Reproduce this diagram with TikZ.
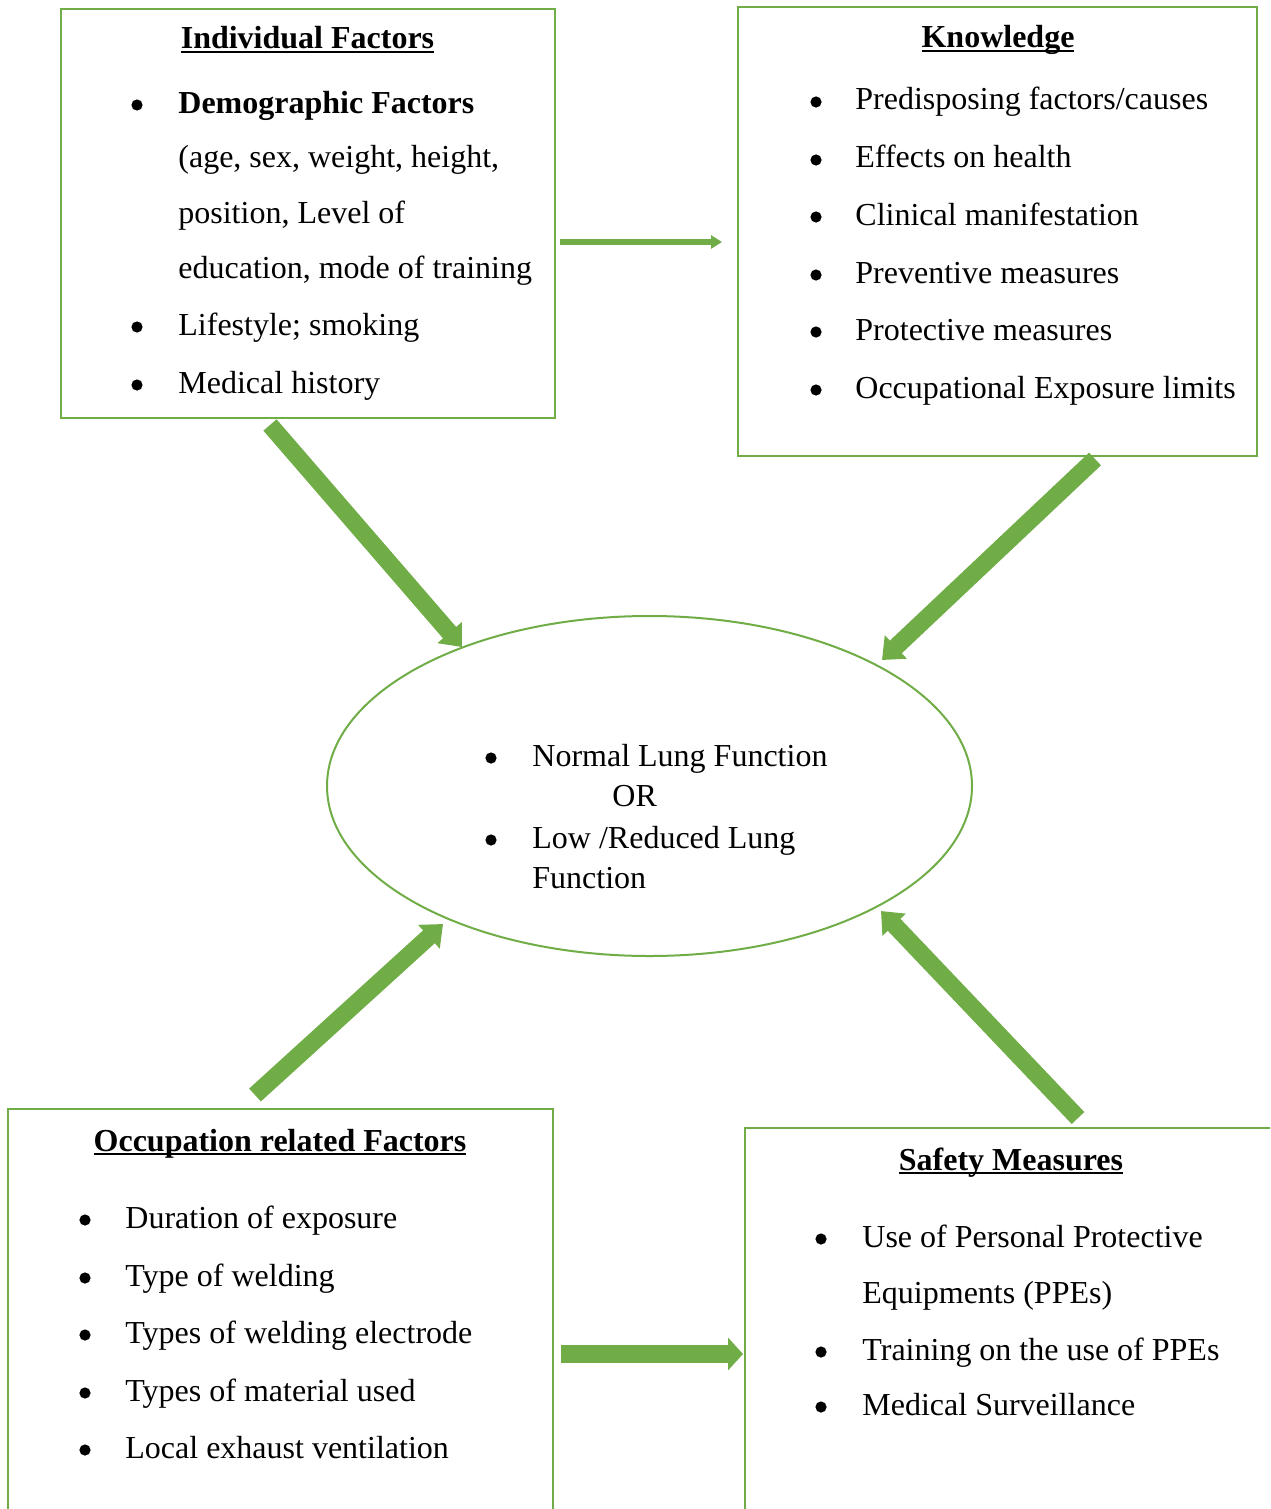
\documentclass[tikz,border=0pt]{standalone}
\usepackage{fontspec}
\setmainfont{Liberation Serif}
\usetikzlibrary{arrows.meta,shapes.geometric,fit}
\definecolor{grn}{HTML}{70AD47}
\newlength\myulw
\newcommand\myul[1]{\settowidth\myulw{#1}\rlap{\rule[-1.9pt]{\myulw}{0.8pt}}#1}
\begin{document}
\begin{tikzpicture}[x=0.5pt,y=-0.5pt,
  box/.style={draw=grn,line width=1.1pt,inner sep=0pt,rectangle},
  txt/.style={anchor=base west,inner sep=0pt,font=\fontsize{16}{19}\selectfont},
  ttl/.style={anchor=base,inner sep=0pt,font=\fontsize{16}{19}\selectfont\bfseries},
  bul/.style={circle,fill=black,inner sep=0pt,minimum size=5.6pt},
  thinarrow/.style={draw=grn,line width=3pt,-{Triangle[length=5.5pt,width=6.5pt]}},
  bigarrow/.style={draw=grn,line width=8.7pt,-{Triangle[length=9.5pt,width=15.5pt]}},
  flatarrow/.style={draw=grn,line width=9pt,-{Triangle[length=7.5pt,width=16pt]}},
]
\useasboundingbox (0,0) rectangle (1270,1509);
\clip (0,0) rectangle (1270,1509);
\fill[white] (0,0) rectangle (1270,1509);

% boxes
\node[box,fit={(61,9) (555,418)}] (ind) {};
\node[box,fit={(738,7) (1257,456)}] (kno) {};
\node[box,fit={(8,1109) (553,1530)}] (occ) {};
\node[box,fit={(745,1128) (1290,1530)}] (saf) {};
\node[ellipse,draw=grn,line width=1pt,inner sep=0pt,minimum width=322.5pt,minimum height=170pt] (out) at (649.5,786) {};

% Individual Factors
\node[ttl] (indt) at (307.5,49) {\myul{Individual Factors}};
\node[bul] (ib1) at (137,105) {};
\node[txt] (i1) at (178,113) {\textbf{Demographic Factors}};
\node[txt] (i2) at (178,168) {(age, sex, weight, height,};
\node[txt] (i3) at (178,223) {position, Level of};
\node[txt] (i4) at (178,278) {education, mode of training};
\node[bul] (ib2) at (137,327) {};
\node[txt] (i5) at (178,335) {Lifestyle; smoking};
\node[bul] (ib3) at (137,385) {};
\node[txt] (i6) at (178,393) {Medical history};

% Knowledge
\node[ttl] (knot) at (998,48) {\myul{Knowledge}};
\node[bul] (kb1) at (816,102) {};
\node[txt] (k1) at (855,110) {Predisposing factors/causes};
\node[bul] (kb2) at (816,160) {};
\node[txt] (k2) at (855,168) {Effects on health};
\node[bul] (kb3) at (816,217) {};
\node[txt] (k3) at (855,225) {Clinical manifestation};
\node[bul] (kb4) at (816,275) {};
\node[txt] (k4) at (855,283) {Preventive measures};
\node[bul] (kb5) at (816,332) {};
\node[txt] (k5) at (855,340) {Protective measures};
\node[bul] (kb6) at (816,390) {};
\node[txt] (k6) at (855,398) {Occupational Exposure limits};

% Outcome
\node[bul] (ob1) at (491,758) {};
\node[txt] (o1) at (532,766) {Normal Lung Function};
\node[txt] (o2) at (612,806) {OR};
\node[bul] (ob2) at (491,840) {};
\node[txt] (o3) at (532,848) {Low /Reduced Lung};
\node[txt] (o4) at (532,888) {Function};

% Occupation related Factors
\node[ttl] (occt) at (280,1151) {\myul{Occupation related Factors}};
\node[bul] (cb1) at (85,1220) {};
\node[txt] (c1) at (125,1228) {Duration of exposure};
\node[bul] (cb2) at (85,1278) {};
\node[txt] (c2) at (125,1286) {Type of welding};
\node[bul] (cb3) at (85,1335) {};
\node[txt] (c3) at (125,1343) {Types of welding electrode};
\node[bul] (cb4) at (85,1393) {};
\node[txt] (c4) at (125,1401) {Types of material used};
\node[bul] (cb5) at (85,1450) {};
\node[txt] (c5) at (125,1458) {Local exhaust ventilation};

% Safety Measures
\node[ttl] (saft) at (1011,1170) {\myul{Safety Measures}};
\node[bul] (sb1) at (821,1239) {};
\node[txt] (s1) at (862,1247) {Use of Personal Protective};
\node[txt] (s2) at (862,1303) {Equipments (PPEs)};
\node[bul] (sb2) at (821,1352) {};
\node[txt] (s3) at (862,1360) {Training on the use of PPEs};
\node[bul] (sb3) at (821,1407) {};
\node[txt] (s4) at (862,1415) {Medical Surveillance};

% arrow end points
\coordinate (a1s) at (560,242);
\coordinate (a1e) at (722,242);
\coordinate (a2s) at (270,425);
\coordinate (a2e) at (462,647);
\coordinate (a3s) at (1095,459);
\coordinate (a3e) at (882,660);
\coordinate (a4s) at (255,1095);
\coordinate (a4e) at (443,924);
\coordinate (a5s) at (1078,1118);
\coordinate (a5e) at (881,911);
\coordinate (a6s) at (561,1354);
\coordinate (a6e) at (743,1354);

\draw[thinarrow] (a1s) -- (a1e);
\draw[bigarrow] (a2s) -- (a2e);
\draw[bigarrow] (a3s) -- (a3e);
\draw[bigarrow] (a4s) -- (a4e);
\draw[bigarrow] (a5s) -- (a5e);
\draw[flatarrow] (a6s) -- (a6e);
\end{tikzpicture}
\end{document}
